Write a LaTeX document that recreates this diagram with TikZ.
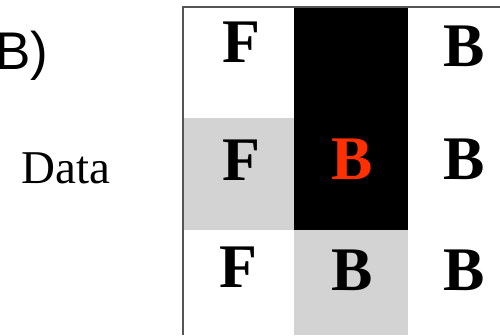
\documentclass[tikz,border=0pt]{standalone}
\usepackage{fontspec}
\setmainfont{Liberation Serif}
\newfontfamily\arialfont{Liberation Sans}
\definecolor{cellgray}{HTML}{D3D3D3}
\definecolor{redB}{HTML}{FF3000}
\definecolor{framegray}{HTML}{555555}
\begin{document}
\begin{tikzpicture}[x=1pt,y=1pt,
  letter/.style={anchor=base,inner sep=0pt,font=\fontsize{62}{62}\selectfont\bfseries},
  label/.style={anchor=base west,inner sep=0pt}]
\useasboundingbox (0,0) rectangle (500,335);
\begin{scope}
\clip (0,0) rectangle (500,335);
% cells (y measured from bottom: y' = 335 - y)
\fill[black] (294,105) rectangle (408,328);
\fill[cellgray] (183,105) rectangle (294,217);
\fill[cellgray] (294,0) rectangle (408,105);
% frame: left and top edges
\draw[framegray,line width=1.6pt] (183,0) -- (183,328) -- (500,328);
% letters
\node[letter] (f1) at (241,272) {F};
\node[letter] (b1) at (464,268) {B};
\node[letter] (f2) at (241,155) {F};
\node[letter,text=redB] (b2) at (352,156) {B};
\node[letter] (b3) at (464,156) {B};
\node[letter] (f3) at (238,48) {F};
\node[letter] (b4) at (352,45) {B};
\node[letter] (b5) at (464,45) {B};
% side labels
\node[label,font=\arialfont\fontsize{53}{53}\selectfont] (lab) at (-5,265) {B)};
\node[label,font=\fontsize{47}{47}\selectfont] (data) at (21,152) {Data};
\end{scope}
\end{tikzpicture}
\end{document}
